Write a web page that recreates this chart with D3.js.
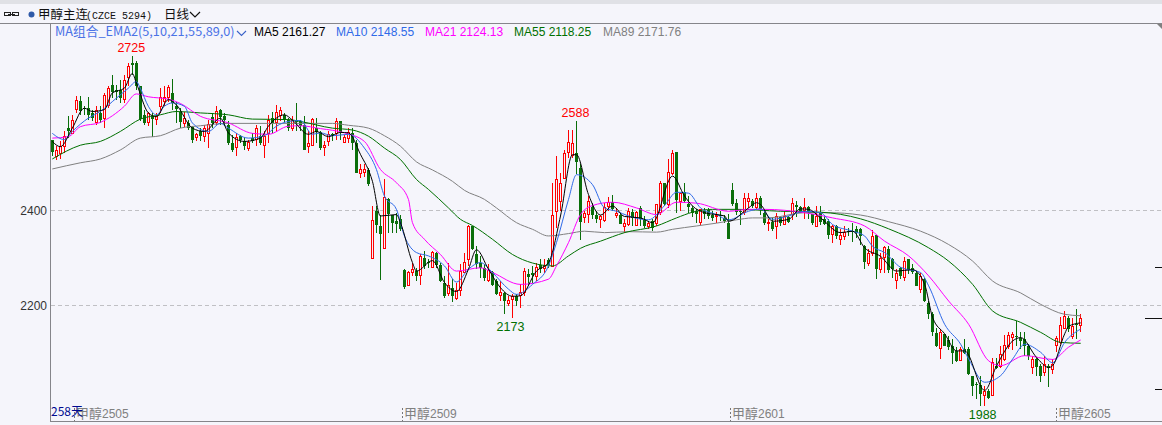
<!DOCTYPE html>
<html><head><meta charset="utf-8">
<style>html,body{margin:0;padding:0;background:#f5f5fb;overflow:hidden}svg{display:block}text{white-space:pre}</style>
<script src="https://cdn.jsdelivr.net/npm/d3@7/dist/d3.min.js"></script></head><body>
<div id="c"></div>
<script>
const opens=[2547,2515,2520,2534,2574,2562,2614,2631,2615,2615,2605,2587,2605,2594,2622,2664,2653,2653,2636,2681,
2710,2710,2661,2601,2587,2598,2591,2619,2629,2639,2647,2619,2606,2583,2584,2576,2553,2566,2557,2563,
2597,2587,2612,2598,2580,2541,2534,2557,2545,2531,2553,2549,2556,2538,2563,2594,2585,2601,2601,2590,
2573,2591,2587,2580,2534,2538,2573,2564,2534,2545,2560,2562,2587,2545,2553,2563,2542,2480,2482,2485,
2300,2398,2368,2321,2423,2391,2377,2381,2274,2243,2270,2272,2263,2300,2292,2281,2311,2285,2247,2225,
2237,2216,2233,2272,2298,2367,2307,2290,2279,2255,2270,2251,2220,2226,2205,2213,2220,2220,2227,2265,
2269,2263,2285,2277,2296,2283,2398,2420,2468,2524,2517,2521,2490,2385,2391,2408,2391,2381,2380,2409,
2417,2391,2391,2367,2370,2397,2368,2405,2380,2368,2377,2374,2396,2458,2413,2479,2523,2420,2439,2413,
2405,2398,2374,2398,2401,2391,2388,2391,2384,2374,2442,2416,2398,2396,2420,2420,2408,2426,2395,2373,
2375,2367,2385,2373,2385,2392,2412,2408,2402,2406,2392,2367,2396,2381,2377,2349,2366,2338,2346,2356,
2356,2361,2361,2325,2290,2311,2347,2276,2300,2318,2297,2254,2278,2261,2298,2279,2269,2234,2256,2205,
2181,2142,2109,2140,2126,2115,2103,2086,2109,2108,2051,2034,2032,2011,2020,2010,2073,2073,2087,2115,
2134,2136,2132,2130,2115,2072,2087,2073,2060,2073,2066,2117,2122,2153,2174,2134,2160,2159];
const closes=[2522,2528,2535,2556,2567,2590,2632,2609,2612,2601,2594,2612,2591,2642,2657,2650,2648,2636,2675,2704,
2706,2661,2591,2585,2605,2591,2598,2639,2638,2660,2626,2612,2584,2594,2573,2549,2560,2556,2573,2582,
2584,2610,2598,2590,2542,2527,2555,2548,2535,2543,2546,2573,2542,2556,2590,2584,2606,2612,2590,2573,
2590,2587,2577,2527,2541,2592,2564,2531,2538,2560,2555,2587,2563,2555,2565,2542,2479,2488,2488,2455,
2379,2368,2352,2429,2391,2374,2370,2360,2239,2270,2277,2262,2303,2283,2289,2312,2285,2251,2219,2242,
2220,2232,2272,2292,2368,2319,2286,2279,2258,2275,2242,2223,2227,2209,2211,2220,2209,2227,2272,2258,
2265,2281,2276,2284,2286,2391,2466,2457,2520,2544,2542,2503,2377,2394,2419,2391,2382,2388,2407,2417,
2403,2395,2373,2374,2398,2384,2396,2382,2368,2374,2363,2413,2458,2413,2480,2521,2423,2436,2420,2406,
2394,2391,2402,2391,2388,2384,2391,2388,2377,2340,2412,2398,2395,2426,2426,2409,2426,2403,2373,2375,
2361,2388,2373,2389,2375,2416,2408,2396,2408,2395,2374,2389,2374,2370,2347,2366,2346,2347,2354,2353,
2353,2352,2347,2291,2310,2346,2275,2300,2322,2273,2276,2269,2261,2294,2275,2270,2242,2261,2210,2182,
2144,2115,2143,2115,2112,2101,2082,2109,2101,2056,2031,2031,2013,2020,2005,2080,2069,2098,2116,2138,
2140,2133,2125,2116,2094,2088,2070,2052,2077,2068,2077,2131,2158,2178,2150,2156,2157,2174];
const highs=[2549,2535,2545,2566,2598,2601,2640,2640,2619,2639,2612,2619,2619,2647,2661,2685,2664,2675,2685,2710,
2725,2715,2661,2612,2608,2605,2605,2657,2662,2664,2677,2629,2615,2608,2591,2577,2563,2573,2580,2591,
2605,2619,2613,2605,2587,2559,2563,2559,2555,2549,2563,2580,2577,2566,2601,2608,2622,2618,2605,2594,
2598,2626,2591,2598,2566,2594,2594,2566,2545,2566,2563,2594,2587,2559,2573,2573,2549,2497,2497,2490,
2410,2409,2391,2465,2426,2391,2395,2391,2276,2272,2290,2279,2307,2314,2298,2314,2312,2290,2262,2290,
2255,2248,2286,2310,2370,2368,2325,2304,2286,2286,2272,2255,2251,2227,2220,2223,2223,2244,2279,2276,
2283,2290,2297,2297,2300,2458,2514,2479,2528,2570,2570,2589,2497,2398,2430,2416,2398,2391,2416,2429,
2433,2405,2395,2381,2405,2402,2398,2410,2388,2375,2381,2413,2461,2458,2508,2528,2523,2437,2458,2430,
2409,2402,2403,2405,2405,2398,2397,2398,2391,2393,2457,2423,2402,2436,2436,2424,2437,2431,2398,2381,
2385,2395,2388,2398,2388,2426,2420,2410,2426,2410,2392,2409,2409,2388,2381,2370,2370,2360,2367,2363,
2374,2366,2363,2328,2318,2359,2347,2311,2325,2324,2300,2276,2280,2302,2298,2286,2272,2269,2258,2210,
2185,2153,2151,2140,2136,2129,2112,2112,2129,2112,2052,2038,2052,2031,2024,2090,2090,2115,2138,2143,
2144,2166,2143,2144,2118,2093,2090,2077,2093,2077,2087,2135,2175,2188,2178,2174,2192,2181];
const lows=[2514,2506,2508,2521,2553,2560,2605,2601,2601,2591,2587,2580,2584,2573,2615,2636,2633,2626,2626,2661,
2685,2654,2587,2580,2578,2555,2580,2605,2619,2629,2612,2584,2573,2576,2570,2541,2546,2546,2543,2531,
2573,2580,2580,2577,2538,2522,2515,2541,2527,2524,2542,2535,2538,2510,2542,2563,2566,2587,2584,2566,
2566,2566,2566,2527,2521,2535,2541,2528,2515,2536,2545,2549,2549,2541,2541,2528,2478,2468,2471,2452,
2298,2353,2253,2320,2353,2353,2353,2356,2234,2243,2261,2251,2242,2276,2279,2279,2279,2249,2215,2220,
2207,2212,2220,2269,2283,2316,2276,2258,2251,2250,2241,2221,2209,2181,2199,2173,2199,2194,2220,2241,
2248,2251,2269,2269,2279,2283,2363,2398,2466,2510,2510,2476,2338,2374,2373,2381,2374,2362,2375,2398,
2398,2384,2373,2353,2367,2368,2367,2368,2363,2360,2356,2367,2391,2409,2405,2475,2395,2398,2416,2395,
2385,2373,2370,2381,2382,2377,2373,2377,2373,2339,2410,2391,2369,2391,2405,2405,2403,2391,2370,2356,
2356,2339,2368,2373,2374,2380,2385,2395,2381,2381,2370,2367,2370,2370,2339,2331,2339,2326,2338,2346,
2333,2342,2328,2276,2282,2303,2255,2268,2269,2268,2258,2235,2256,2251,2265,2265,2241,2226,2207,2172,
2135,2112,2088,2115,2105,2077,2081,2083,2098,2053,2010,2003,1989,1989,2003,2009,2066,2069,2083,2108,
2105,2115,2108,2094,2084,2056,2052,2038,2052,2028,2056,2101,2118,2150,2143,2129,2129,2144];

const ma5Idx=[0,2,5,8,10,13,15,18,20,21,24,26,29,31,35,38,42,44,48,52,54,58,60,64,66,69,72,74,77,80,82,86,87,90,91,95,98,101,104,106,109,112,115,117,121,124,127,130,131,134,137,140,143,147,150,155,158,160,163,168,169,174,176,177,180,184,187,189,192,197,200,203,207,211,215,218,220,223,226,228,233,236,240,242,246,249,250,253,254,257];
const ma5Val=[2545,2534,2573,2615,2608,2612,2647,2657,2688,2668,2605,2597,2633,2622,2573,2566,2594,2563,2545,2552,2577,2601,2590,2560,2566,2555,2564,2563,2518,2461,2388,2391,2374,2290,2272,2294,2248,2229,2276,2317,2276,2237,2219,2220,2272,2290,2388,2517,2517,2433,2390,2409,2387,2384,2374,2472,2430,2409,2395,2388,2377,2405,2416,2412,2377,2381,2403,2402,2384,2353,2356,2321,2303,2272,2275,2244,2174,2140,2104,2104,2021,2073,2125,2132,2090,2069,2073,2140,2156,2163];
const ma10Idx=[0,3,5,9,12,16,19,21,22,24,26,28,30,33,35,39,42,44,49,53,56,59,62,65,67,70,74,78,81,83,86,88,91,94,98,101,104,107,110,114,116,120,124,126,129,131,135,138,141,144,149,153,156,159,162,166,169,174,177,180,184,188,192,195,200,203,205,208,212,217,219,223,227,229,233,237,240,243,247,250,253,257];
const ma10Val=[2562,2549,2566,2594,2608,2636,2657,2671,2657,2619,2601,2619,2626,2619,2584,2566,2583,2573,2552,2557,2577,2587,2589,2560,2563,2557,2560,2531,2486,2430,2402,2346,2311,2304,2283,2249,2276,2290,2269,2234,2223,2244,2283,2332,2423,2475,2454,2405,2398,2388,2380,2410,2438,2436,2405,2391,2380,2398,2403,2381,2388,2398,2395,2370,2356,2346,2324,2311,2280,2269,2241,2160,2118,2087,2038,2052,2087,2118,2101,2079,2122,2150];
const ma21Idx=[0,4,7,12,18,21,24,29,32,37,44,50,54,59,62,67,73,78,82,86,89,90,93,97,101,107,110,117,124,126,129,132,135,140,146,151,156,161,169,174,178,188,195,203,208,214,219,224,229,234,237,243,250,254,257];
const ma21Val=[2552,2555,2576,2585,2619,2645,2639,2634,2625,2598,2584,2562,2560,2577,2578,2572,2563,2545,2486,2458,2423,2374,2339,2307,2272,2279,2269,2244,2255,2283,2332,2391,2410,2417,2405,2391,2417,2415,2398,2402,2402,2395,2384,2367,2335,2304,2262,2209,2160,2083,2073,2094,2086,2112,2127];
const ma55Idx=[0,7,12,17,22,27,31,37,44,50,59,62,70,75,79,83,87,91,94,99,102,105,110,115,120,125,129,132,137,143,151,156,160,165,171,182,192,202,209,219,224,230,235,242,247,252,257];
const ma55Val=[2508,2537,2545,2566,2592,2601,2608,2605,2601,2592,2591,2587,2573,2569,2556,2531,2507,2465,2444,2405,2381,2368,2339,2307,2289,2283,2304,2320,2335,2353,2367,2384,2396,2402,2402,2398,2396,2382,2361,2321,2293,2244,2188,2164,2143,2122,2120];
const ma89Idx=[0,7,12,17,22,27,32,37,44,54,62,70,74,79,83,87,91,95,100,103,108,111,116,120,124,129,133,138,144,151,155,161,166,171,175,179,188,194,202,209,217,224,230,235,242,247,253,257];
const ma89Val=[2487,2500,2508,2527,2552,2557,2573,2578,2583,2583,2583,2583,2579,2573,2557,2535,2502,2485,2461,2442,2423,2405,2374,2360,2346,2351,2356,2353,2355,2354,2360,2367,2373,2380,2384,2384,2395,2395,2390,2376,2356,2328,2293,2251,2226,2202,2181,2178];

const yTicks=[2200,2400];
const extremes=[{i:20,v:2725,t:"2725",c:"#ff0000"},{i:131,v:2588,t:"2588",c:"#ff0000"},{i:115,v:2173,t:"2173",c:"#007000"},{i:233,v:1988,t:"1988",c:"#007000"}];
const months=[{i:5.5,t:"甲醇",n:"2505"},{i:87.5,t:"甲醇",n:"2509"},{i:169.5,t:"甲醇",n:"2601"},{i:251,t:"甲醇",n:"2605"}];
const legend=[{t:"MA5 2161.27",c:"#000000",x:254},{t:"MA10 2148.55",c:"#2f6ae8",x:336},{t:"MA21 2124.13",c:"#ff00ff",x:425},{t:"MA55 2118.25",c:"#007000",x:514},{t:"MA89 2171.76",c:"#808080",x:603}];
const sideMarks=[{y:2280,w:7},{y:2173,w:17},{y:2022,w:7}];

const W=1162,H=425,BG="#f5f5fb",RED="#ff0000",GRN="#0a6e0a";
const x=d3.scaleLinear().domain([0,257]).range([52.3,1080.7]);
const y=d3.scaleLinear().domain([2200,2400]).range([305.3,210.3]);
const px=v=>Math.floor(x(v));
const svg=d3.select("#c").append("svg").attr("width",W).attr("height",H).style("font-family","'Liberation Sans',sans-serif");
svg.append("rect").attr("width",W).attr("height",H).attr("fill",BG);
svg.append("rect").attr("width",W).attr("height",4).attr("fill","#e0e1e6");

// header
const link=svg.append("g").attr("fill","none").attr("stroke","#222").attr("stroke-width",1).attr("shape-rendering","crispEdges");
link.append("rect").attr("x",4.5).attr("y",12.5).attr("width",6).attr("height",3);
link.append("rect").attr("x",12.5).attr("y",12.5).attr("width",6).attr("height",3);
link.append("line").attr("x1",8).attr("x2",15).attr("y1",14).attr("y2",14);
svg.append("circle").attr("cx",31.5).attr("cy",14.5).attr("r",3).attr("fill","#2f5aa8");
svg.append("text").attr("x",38).attr("y",19).attr("font-size",12.5).attr("fill","#111").style("font-family","'Noto Sans CJK SC'").text("甲醇主连");
svg.append("text").attr("x",86).attr("y",18.5).attr("font-size",11).attr("textLength",66).attr("lengthAdjust","spacingAndGlyphs").attr("fill","#111").style("font-family","'Liberation Mono',monospace").text("(CZCE 5294)");
svg.append("text").attr("x",164).attr("y",19).attr("font-size",12.5).attr("fill","#111").style("font-family","'Noto Sans CJK SC'").text("日线");
svg.append("path").attr("d","M190 12 L195 17 L200 12").attr("fill","none").attr("stroke","#111").attr("stroke-width",1.2);
svg.append("path").attr("d","M1157 24 H1162 V29 Z").attr("fill","#808080");

// grid
svg.append("g").selectAll("line").data(yTicks).join("line")
 .attr("x1",51).attr("x2",W).attr("y1",d=>Math.round(y(d))+.5).attr("y2",d=>Math.round(y(d))+.5)
 .attr("stroke","#c0c0c4").attr("stroke-dasharray","4 3");

// axes frame
svg.append("line").attr("x1",0).attr("x2",W).attr("y1",23.5).attr("y2",23.5).attr("stroke","#85858a");
svg.append("line").attr("x1",50.5).attr("x2",50.5).attr("y1",24).attr("y2",421).attr("stroke","#85858a");
svg.append("line").attr("x1",50).attr("x2",W).attr("y1",421.5).attr("y2",421.5).attr("stroke","#85858a");

const axis=d3.axisLeft(y).tickValues(yTicks).tickSize(0).tickPadding(3).tickFormat(d3.format("d"));
const ga=svg.append("g").attr("transform","translate(50,0)").call(axis);
ga.select(".domain").remove();
ga.selectAll("text").attr("font-size",12).attr("font-family","'Liberation Sans',sans-serif").attr("fill","#333");

// candles
const idx=d3.range(opens.length);
const cg=svg.append("g").attr("shape-rendering","crispEdges");
const colorOf=i=>closes[i]>=opens[i]?RED:GRN;
cg.selectAll("line").data(idx).join("line")
 .attr("x1",i=>px(i)+.5).attr("x2",i=>px(i)+.5).attr("y1",i=>y(highs[i])).attr("y2",i=>y(lows[i])).attr("stroke",colorOf);
cg.selectAll("rect").data(idx).join("rect")
 .attr("x",i=>closes[i]>=opens[i]?px(i)-.5:px(i)-1)
 .attr("width",i=>closes[i]>=opens[i]?2:3)
 .attr("y",i=>Math.round(y(Math.max(opens[i],closes[i])))+(closes[i]>=opens[i]?.5:0))
 .attr("height",i=>Math.max(1,Math.round(Math.abs(y(opens[i])-y(closes[i])))))
 .attr("fill",i=>closes[i]>=opens[i]?BG:GRN)
 .attr("stroke",i=>closes[i]>=opens[i]?RED:"none");

// moving averages
const maSeries=[[ma89Idx,ma89Val,"#808080"],[ma55Idx,ma55Val,"#007000"],[ma21Idx,ma21Val,"#ff00ff"],[ma10Idx,ma10Val,"#2f6ae8"],[ma5Idx,ma5Val,"#000000"]];
const lineGen=d3.line().x(d=>x(d[0])).y(d=>y(d[1])).curve(d3.curveMonotoneX);
svg.append("g").selectAll("path").data(maSeries).join("path")
 .attr("d",s=>lineGen(s[0].map((k,j)=>[k,s[1][j]]))).attr("fill","none").attr("stroke",s=>s[2]).attr("stroke-width",1);

// high/low labels
const labelDx={"2725":-1,"2588":-1,"2173":-2,"1988":-2};
svg.append("g").selectAll("text").data(extremes).join("text")
 .attr("x",d=>x(d.i)+labelDx[d.t])
 .attr("y",d=>y(d.v)+(d.c===RED?-4:13)).attr("text-anchor","middle").attr("font-size",12.5).attr("fill",d=>d.c).text(d=>d.t);

// legend
svg.append("text").attr("x",55).attr("y",36).attr("font-size",12.7).attr("fill","#4a72e6").style("font-family","'Noto Sans CJK SC'").text("MA组合_EMA2(5,10,21,55,89,0)");
svg.append("path").attr("d","M237 31 L241.5 35.5 L246 31").attr("fill","none").attr("stroke","#3a62c8").attr("stroke-width",1.1);
svg.append("g").selectAll("text").data(legend).join("text").attr("x",d=>d.x).attr("y",36).attr("font-size",12).attr("fill",d=>d.c).text(d=>d.t);

// month labels
const mg=svg.append("g").selectAll("g").data(months).join("g");
mg.append("line").attr("x1",d=>px(d.i)+.5).attr("x2",d=>px(d.i)+.5).attr("y1",408).attr("y2",421).attr("stroke","#777").attr("stroke-dasharray","2 2");
const mt=mg.append("text").attr("x",d=>px(d.i)+2).attr("y",418).attr("fill","#808080");
mt.append("tspan").attr("font-size",13).style("font-family","'Noto Sans CJK SC'").text(d=>d.t);
mt.append("tspan").attr("font-size",12).text(d=>d.n);
svg.append("text").attr("x",51).attr("y",416).attr("font-size",12).attr("fill","#000a90").style("font-family","'Noto Sans CJK SC'").text("258天");

// right-side marks
svg.append("g").attr("shape-rendering","crispEdges").selectAll("line").data(sideMarks).join("line")
 .attr("x1",d=>W-d.w).attr("x2",W).attr("y1",d=>y(d.y)).attr("y2",d=>y(d.y)).attr("stroke","#111");
</script></body></html>
